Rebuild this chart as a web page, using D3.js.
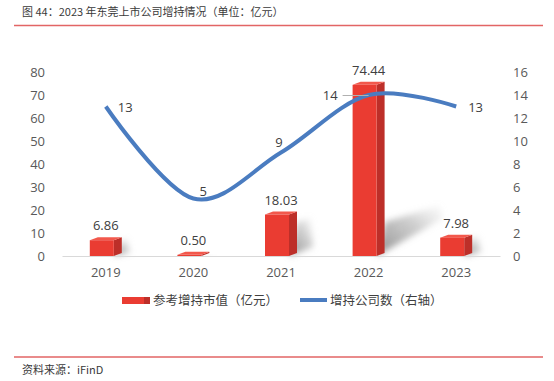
<!DOCTYPE html>
<html><head><meta charset="utf-8">
<script src="https://cdn.jsdelivr.net/npm/d3@7"></script>
<style>
html,body{margin:0;padding:0;background:#fff;}
svg{display:block;}
</style></head>
<body>
<svg id="c" width="554" height="381"></svg>
<script>
const categories = ["2019","2020","2021","2022","2023"];
const marketValue = [6.86, 0.50, 18.03, 74.44, 7.98];
const companyCount = [13, 5, 9, 14, 13];
const leftTicks = [0,10,20,30,40,50,60,70,80];
const rightTicks = [0,2,4,6,8,10,12,14,16];
const barLabels = ["6.86","0.50","18.03","74.44","7.98"];
const title = "图 44：2023 年东莞上市公司增持情况（单位：亿元）";
const source = "资料来源：iFinD";
const legendNames = ["参考增持市值（亿元）","增持公司数（右轴）"];

const svg = d3.select("#c");
const font = "'Open Sans','Noto Sans CJK SC',sans-serif";
const cjk = "'Noto Sans CJK SC',sans-serif";

// header/footer
svg.append("text").attr("x",22).attr("y",16).attr("font-family","'Noto Sans CJK SC',serif")
  .attr("font-size",11).attr("fill","#3a3a3a").text(title);
svg.append("line").attr("x1",14).attr("x2",543).attr("y1",25.5).attr("y2",25.5)
  .attr("stroke","#e26565").attr("stroke-width",1.3);
svg.append("line").attr("x1",14).attr("x2",543).attr("y1",357).attr("y2",357)
  .attr("stroke","#e26565").attr("stroke-width",1.3);
svg.append("text").attr("x",22).attr("y",374).attr("font-family","'Noto Sans CJK SC',serif")
  .attr("font-size",11).attr("fill","#3a3a3a").text(source);

const x = d3.scaleBand().domain(categories).range([62,500]);
const yL = d3.scaleLinear().domain([0,80]).range([256,72]);
const yR = d3.scaleLinear().domain([0,16]).range([256,72]);

// defs
const defs = svg.append("defs");
defs.append("filter").attr("id","blur").attr("x","-50%").attr("y","-50%").attr("width","200%").attr("height","200%")
  .append("feGaussianBlur").attr("stdDeviation",3);
const grad = defs.append("linearGradient").attr("id","shg").attr("x1","0").attr("y1","1").attr("x2","1").attr("y2","0");
grad.append("stop").attr("offset","0").attr("stop-color","#808080").attr("stop-opacity",0.9);
grad.append("stop").attr("offset","0.6").attr("stop-color","#a8a8a8").attr("stop-opacity",0.55);
grad.append("stop").attr("offset","1").attr("stop-color","#d0d0d0").attr("stop-opacity",0.08);

// axis ticks
const gL = svg.append("g").attr("transform","translate(45,0)")
  .call(d3.axisLeft(yL).tickValues(leftTicks).tickSize(0).tickPadding(0));
gL.select(".domain").remove();
gL.selectAll("text").attr("font-family",font).attr("font-size",13).attr("fill","#595959");
const gR = svg.append("g").attr("transform","translate(513,0)")
  .call(d3.axisRight(yR).tickValues(rightTicks).tickSize(0).tickPadding(0));
gR.select(".domain").remove();
gR.selectAll("text").attr("font-family",font).attr("font-size",13).attr("fill","#595959");

// shadows
const dx = 8, dy = -3, fw = 24;
const base = yL(0);
svg.append("g").selectAll("path").data(marketValue).join("path")
  .attr("d",(v,i)=>{
    const c = x(categories[i]) + x.bandwidth()/2;
    const h = base - yL(v);
    const s = h/171;
    const L = 55*s, up = Math.min(h, 34);
    return `M${c+8},${base} L${c+16},${base-up} L${c+16+L},${base-up-L*0.3} L${c+19+L},${base-L*0.68} Z`;
  })
  .attr("fill","url(#shg)").attr("filter","url(#blur)");

const gX = svg.append("g").attr("transform","translate(0,256)")
  .call(d3.axisBottom(x).tickSize(0).tickPadding(12));
gX.select(".domain").attr("stroke","#d9d9d9");
gX.selectAll("text").attr("font-family",font).attr("font-size",13).attr("fill","#595959");

// bars
const bars = svg.append("g").selectAll("g").data(marketValue).join("g");
bars.append("path").attr("d",(v,i)=>{
  const c = x(categories[i]) + x.bandwidth()/2, t = yL(v), xl = c-16, xr = xl+fw;
  return `M${xr},${t} L${xr+dx},${t+dy} L${xr+dx},${base+dy} L${xr},${base} Z`;
}).attr("fill","#bd2f29");
bars.append("path").attr("d",(v,i)=>{
  const c = x(categories[i]) + x.bandwidth()/2, t = yL(v), xl = c-16, xr = xl+fw;
  return `M${xl},${t} L${xl+dx},${t+dy} L${xr+dx},${t+dy} L${xr},${t} Z`;
}).attr("fill","#f2584c");
bars.append("rect")
  .attr("x",(v,i)=>x(categories[i]) + x.bandwidth()/2 - 16)
  .attr("y",v=>yL(v)).attr("width",fw).attr("height",v=>base-yL(v))
  .attr("fill","#ea3c32");

// bar labels
svg.append("g").selectAll("text").data(marketValue).join("text")
  .attr("x",(v,i)=>x(categories[i]) + x.bandwidth()/2)
  .attr("y",v=>yL(v)-10)
  .attr("text-anchor","middle").attr("font-family",font).attr("font-size",13).attr("fill","#404040")
  .text((v,i)=>barLabels[i]);

// line
const pts = companyCount.map((v,i)=>[x(categories[i]) + x.bandwidth()/2, yR(v)]);
svg.append("path").attr("d", d3.line().curve(d3.curveCardinal.tension(0))(pts))
  .attr("fill","none").attr("stroke","#4a7cc0").attr("stroke-width",4).attr("stroke-linecap","butt");

// leader for 14
svg.append("line").attr("x1",pts[3][0]-26).attr("x2",pts[3][0])
  .attr("y1",pts[3][1]+0.5).attr("y2",pts[3][1]+0.5).attr("stroke","#b0b0b0").attr("stroke-width",1);

// line labels
const lblOff = [[12,5,"start"],[6,-3,"start"],[-2,-6,"middle"],[-31,5,"end"],[12,5,"start"]];
svg.append("g").selectAll("text").data(companyCount).join("text")
  .attr("x",(v,i)=>pts[i][0]+lblOff[i][0]).attr("y",(v,i)=>pts[i][1]+lblOff[i][1])
  .attr("text-anchor",(v,i)=>lblOff[i][2])
  .attr("font-family",font).attr("font-size",13).attr("fill","#404040")
  .text(v=>v);

// legend
const lg = svg.append("g");
lg.append("rect").attr("x",122).attr("y",297).attr("width",22).attr("height",7).attr("fill","#ea3c32");
lg.append("rect").attr("x",144).attr("y",297).attr("width",6).attr("height",7).attr("fill","#bd2f29");
lg.append("text").attr("x",153).attr("y",305).attr("font-family",cjk).attr("font-size",12.5).attr("fill","#404040").text(legendNames[0]);
lg.append("line").attr("x1",300).attr("x2",327).attr("y1",300).attr("y2",300).attr("stroke","#4a7cc0").attr("stroke-width",4);
lg.append("text").attr("x",330).attr("y",305).attr("font-family",cjk).attr("font-size",12.5).attr("fill","#404040").text(legendNames[1]);
</script>
</body></html>
